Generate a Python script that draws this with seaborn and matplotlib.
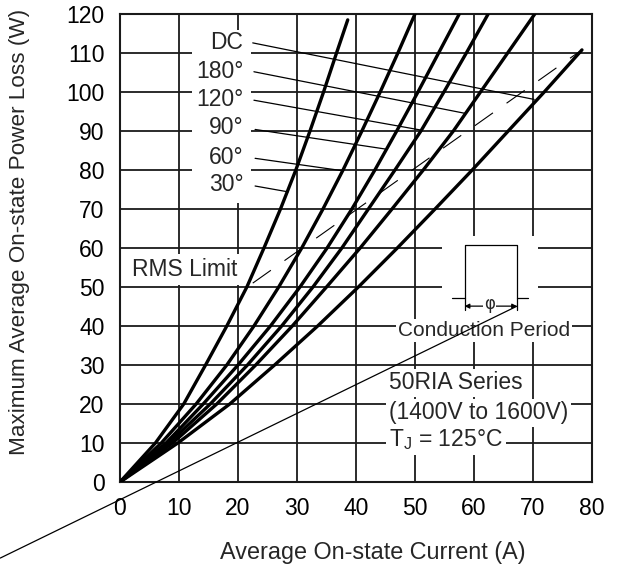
import matplotlib
matplotlib.use("Agg")
import matplotlib.pyplot as plt
import matplotlib.patches as mpatches
import pandas as pd
import seaborn as sns

# curves: current (A) at given power loss (W)
labels = ["30°", "60°", "90°", "120°", "180°", "DC"]
P_std = [0, 10, 20, 30, 40, 50, 60, 70, 80, 90, 100, 110, 120]
I_30 = [0, 6.0, 10.8, 14.5, 18.1, 21.5, 24.4, 27.2, 29.8, 32.2, 34.5, 36.7, 38.6]
P_30 = [0, 10, 20, 30, 40, 50, 60, 70, 80, 90, 100, 110, 118.5]
I_60 = [0, 7.0, 12.9, 18.1, 22.7, 26.9, 30.8, 34.4, 37.8, 41.0, 44.1, 47.1, 50.0]
I_90 = [0, 7.8, 14.1, 20.0, 25.5, 30.5, 35.1, 39.3, 43.2, 46.9, 50.5, 54.0, 57.5]
I_120 = [0, 8.3, 15.3, 21.6, 27.4, 32.7, 37.6, 42.1, 46.6, 51.0, 54.9, 58.7, 62.4]
I_180 = [0, 8.9, 16.4, 23.0, 29.2, 35.0, 40.7, 46.1, 51.4, 56.5, 61.1, 65.7, 70.3]
I_dc = [0, 9.8, 18.6, 26.2, 33.5, 40.4, 47.0, 53.4, 59.7, 65.8, 71.9, 78.3]
P_dc = [0, 10, 20, 30, 40, 50, 60, 70, 80, 90, 100, 110.8]

# RMS limit (dashed) end points
rms_I = [22.5, 77.8]
rms_P = [51.0, 110.3]

# label column: text y, leader start and leader end on each curve
label_y = [76.2, 83.3, 90.8, 98.0, 105.3, 112.6]
lead_start = [(22.9, 75.9), (22.9, 83.0), (22.9, 90.4), (22.7, 97.9), (22.7, 105.2), (22.5, 112.6)]
lead_end = [(28.5, 74.4), (37.8, 79.8), (44.9, 85.4), (50.8, 90.3), (58.6, 94.5), (70.2, 98.1)]

curves = [(I_30, P_30), (I_60, P_std), (I_90, P_std), (I_120, P_std), (I_180, P_std), (I_dc, P_dc)]
frames = []
for lab, (ii, pp) in zip(labels, curves):
    frames.append(pd.DataFrame({"I": ii, "P": pp, "curve": lab}))
df = pd.concat(frames, ignore_index=True)

sns.set_style("white")
plt.rcParams["font.family"] = ["Liberation Sans", "DejaVu Sans"]
plt.rcParams["mathtext.fontset"] = "custom"
plt.rcParams["mathtext.rm"] = "Liberation Sans"
plt.rcParams["mathtext.it"] = "Liberation Sans:italic"

fig = plt.figure(figsize=(6.24, 5.77), dpi=100)
ax = fig.add_axes([0.1923, 0.1646, 0.7564, 0.8111])

sns.lineplot(data=df, x="I", y="P", units="curve", estimator=None, sort=False,
             color="black", lw=2.4, ax=ax, zorder=4)

ax.plot(rms_I, rms_P, color="black", lw=0.8, dashes=(20, 15), zorder=3)

ax.set_xlim(0, 80)
ax.set_ylim(0, 120)
ax.set_xticks(range(0, 81, 10))
ax.set_yticks(range(0, 121, 10))
ax.set_axisbelow(True)
ax.grid(True, color="#1a1a1a", lw=1.3)
for s in ax.spines.values():
    s.set_color("#1a1a1a")
    s.set_linewidth(1.5)
ax.tick_params(length=0, labelsize=16.5, pad=11, colors="black")

ax.set_xlabel("Average On-state Current (A)", fontsize=16.8)
ax.set_ylabel("Maximum Average On-state Power Loss (W)", fontsize=16.2)
ax.xaxis.set_label_coords(0.536, -0.125)
ax.yaxis.set_label_coords(-0.19, 0.534)

# white box behind the label column
ax.add_patch(mpatches.Rectangle((12.2, 71.5), 10.0, 44.5, facecolor="white",
                                edgecolor="none", zorder=1))
for lab, y in zip(labels, label_y):
    ax.text(20.9, y, lab, ha="right", va="center", fontsize=16.5, zorder=5)
for (x0, y0), (x1, y1) in zip(lead_start, lead_end):
    ax.plot([x0, x1], [y0, y1], color="black", lw=0.9, zorder=3)

ax.text(2.0, 54.4, "RMS Limit", ha="left", va="center", fontsize=16.5, zorder=5,
        bbox=dict(facecolor="white", edgecolor="none", pad=3))

# conduction period sketch
ax.add_patch(mpatches.Rectangle((54.6, 36.0), 16.2, 27.0, facecolor="white",
                                edgecolor="none", zorder=1))
ax.plot([58.4, 58.4, 67.3, 67.3], [44.1, 60.8, 60.8, 44.1], color="black", lw=0.9, zorder=3)
ax.plot([56.2, 58.4], [47.1, 47.1], color="black", lw=0.9, zorder=3)
ax.plot([67.3, 69.2], [47.1, 47.1], color="black", lw=0.9, zorder=3)
ax.annotate("", xy=(58.4, 45.1), xytext=(62.6, 45.1),
            arrowprops=dict(arrowstyle="-|>", color="black", lw=0.9,
                            mutation_scale=7, shrinkA=0, shrinkB=0), zorder=3)
ax.annotate("", xy=(67.3, 45.1), xytext=(62.6, 45.1),
            arrowprops=dict(arrowstyle="-|>", color="black", lw=0.9,
                            mutation_scale=7, shrinkA=0, shrinkB=0), zorder=3)
ax.text(62.6, 45.6, "φ", ha="center", va="center", fontsize=12, zorder=5,
        family=["DejaVu Sans"],
        bbox=dict(facecolor="white", edgecolor="none", pad=1))
ax.text(61.7, 38.8, "Conduction Period", ha="center", va="center", fontsize=15, zorder=5,
        bbox=dict(facecolor="white", edgecolor="none", pad=1.5))

# long thin pointer line from the lower left corner
ax.plot([-20.3, 67.3], [-19.5, 45.1], color="black", lw=0.9, zorder=6, clip_on=False)

ax.text(45.6, 25.4, "50RIA Series", ha="left", va="center", fontsize=16.5, zorder=5,
        bbox=dict(facecolor="white", edgecolor="none", pad=2))
ax.text(45.6, 17.7, "(1400V to 1600V)", ha="left", va="center", fontsize=16.5, zorder=5,
        bbox=dict(facecolor="white", edgecolor="none", pad=2))
ax.text(45.6, 10.8, r"T$_\mathrm{J}$ = 125°C", ha="left", va="center", fontsize=16.5, zorder=5,
        bbox=dict(facecolor="white", edgecolor="none", pad=2))

fig.savefig("out.png", dpi=100, facecolor="white")
